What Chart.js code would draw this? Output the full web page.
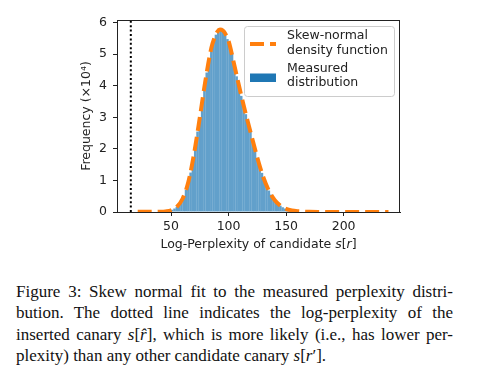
<!DOCTYPE html>
<html>
<head>
<meta charset="utf-8">
<script src="https://cdn.jsdelivr.net/npm/chart.js@4"></script>
<style>
  body { margin: 0; background: #fff; width: 480px; height: 384px; overflow: hidden; position: relative; }
  #wrap { position: absolute; left: 0; top: 0; width: 480px; height: 258px; }
  #caption { position: absolute; left: 16px; top: 281px; width: 437px;
             font-family: "Liberation Serif", "Times New Roman", serif; font-size: 17px;
             line-height: 21.3px; color: #111; }
  #caption .ln { text-align: justify; text-align-last: justify; }
  #caption .last { text-align: left; text-align-last: left; }
</style>
</head>
<body>
<div id="wrap"><canvas id="chart" width="480" height="258"></canvas></div>
<div id="caption">
  <div class="ln">Figure 3: Skew normal fit to the measured perplexity distri-</div>
  <div class="ln">bution. The dotted line indicates the log-perplexity of the</div>
  <div class="ln">inserted canary <i>s</i>[<i>r&#770;</i>], which is more likely (i.e., has lower per-</div>
  <div class="ln last">plexity) than any other candidate canary <i>s</i>[<i>r</i>&#8242;].</div>
</div>
<script>
// histogram bins (centre of each bin) and heights, in units of 10^4
const binCenters = [51, 53, 55, 57, 59, 61, 63, 65, 67, 69, 71, 73, 75, 77, 79, 81, 83, 85,
                    87, 89, 91, 93, 95, 97, 99, 101, 103, 105, 107, 109, 111, 113, 115, 117,
                    119, 121, 123, 125, 127, 129, 131, 133, 135, 137, 139, 141, 143, 145, 147,
                    149, 151, 153, 155];
const binCounts = [0.07, 0.11, 0.16, 0.24, 0.35, 0.5, 0.7, 0.95, 1.25, 1.65, 2.08, 2.55, 3.0,
                   3.48, 3.96, 4.42, 4.82, 5.18, 5.45, 5.62, 5.72, 5.75, 5.72, 5.62, 5.48, 5.3,
                   5.02, 4.66, 4.3, 3.98, 3.68, 3.4, 3.1, 2.82, 2.54, 2.26, 1.98, 1.72, 1.48,
                   1.24, 1.02, 0.85, 0.68, 0.55, 0.43, 0.34, 0.26, 0.2, 0.15, 0.11, 0.08, 0.06,
                   0.04];

// fitted skew-normal density
const curveX = [21, 25, 30, 35, 40, 45, 50, 55, 60, 65, 70, 75, 80, 85, 87.5, 90, 92.5, 95,
                97.5, 100, 105, 110, 115, 120, 125, 130, 135, 140, 145, 150, 155, 160, 165,
                170, 180, 190, 200, 210, 220, 230, 239];
const curveY = [0.004, 0.004, 0.005, 0.006, 0.01, 0.02, 0.05, 0.16, 0.42, 0.95, 1.85, 3.0,
                4.2, 5.2, 5.5, 5.7, 5.78, 5.75, 5.63, 5.42, 4.65, 3.85, 3.1, 2.4, 1.72, 1.12,
                0.68, 0.38, 0.2, 0.1, 0.05, 0.025, 0.012, 0.006, 0.003, 0.002, 0.002, 0.002,
                0.002, 0.002, 0.002];

// log-perplexity of the inserted canary
const canaryX = 15;

const xTicks = [50, 100, 150, 200];
const yTicks = [0, 1, 2, 3, 4, 5, 6];
const xMin = 3, xMax = 249;
const yMin = 0, yMax = 6.085;

const BLUE = '#1f77b4';
const BAR_BLUE = '#62a0cb';
const ORANGE = '#ff7f0e';
const INK = '#222';
const FONT = '"DejaVu Sans", sans-serif';

const decorPlugin = {
    id: 'decor',
    afterDraw(chart) {
        const { ctx, chartArea: a } = chart;
        ctx.save();

        // full frame round the plot
        ctx.strokeStyle = INK;
        ctx.lineWidth = 1;
        ctx.strokeRect(Math.round(a.left) + 0.5, Math.round(a.top) + 0.5,
                       Math.round(a.right - a.left) - 1, Math.round(a.bottom - a.top));

        // legend box, top right inside the plot
        const bx = 244, by = 26, bw = 150, bh = 70;
        ctx.beginPath();
        ctx.roundRect(bx + 0.5, by + 0.5, bw, bh, 3);
        ctx.fillStyle = 'rgba(255,255,255,0.8)';
        ctx.fill();
        ctx.strokeStyle = '#cccccc';
        ctx.stroke();

        ctx.strokeStyle = ORANGE;
        ctx.lineWidth = 4;
        ctx.setLineDash([14, 6]);
        ctx.beginPath();
        ctx.moveTo(250, 44);
        ctx.lineTo(276, 44);
        ctx.stroke();
        ctx.setLineDash([]);

        ctx.fillStyle = BLUE;
        ctx.fillRect(250, 73.5, 26, 8.5);

        ctx.fillStyle = INK;
        ctx.font = '12.5px ' + FONT;
        ctx.textBaseline = 'middle';
        ctx.textAlign = 'left';
        ctx.fillText('Skew-normal', 287, 36);
        ctx.fillText('density function', 287, 50.5);
        ctx.fillText('Measured', 287, 69);
        ctx.fillText('distribution', 287, 83);

        // x axis title with math-italic s and r
        const parts = [
            ['Log-Perplexity of candidate ', 'normal'],
            ['s', 'oblique'],
            ['[', 'normal'],
            ['r', 'oblique'],
            [']', 'normal']
        ];
        let total = 0;
        parts.forEach(p => {
            ctx.font = (p[1] === 'oblique' ? 'oblique ' : '') + '12.5px ' + FONT;
            total += ctx.measureText(p[0]).width;
        });
        let x = (a.left + a.right) / 2 - total / 2;
        parts.forEach(p => {
            ctx.font = (p[1] === 'oblique' ? 'oblique ' : '') + '12.5px ' + FONT;
            ctx.fillText(p[0], x, 245);
            x += ctx.measureText(p[0]).width;
        });

        // y axis title
        ctx.font = '12.5px ' + FONT;
        ctx.textAlign = 'center';
        ctx.translate(87, (a.top + a.bottom) / 2);
        ctx.rotate(-Math.PI / 2);
        ctx.fillText('Frequency (\u00d710\u2074)', 0, 0);

        ctx.restore();
    }
};

new Chart(document.getElementById('chart'), {
    type: 'bar',
    data: {
        datasets: [{
            type: 'line',
            order: 0,
            data: curveX.map((x, i) => ({ x: x, y: curveY[i] })),
            borderColor: ORANGE,
            borderWidth: 4,
            borderDash: [14, 6],
            borderCapStyle: 'butt',
            pointRadius: 0,
            fill: false,
            cubicInterpolationMode: 'monotone'
        }, {
            type: 'line',
            order: 1,
            data: [{ x: canaryX, y: yMin }, { x: canaryX, y: yMax }],
            borderColor: '#000',
            borderWidth: 2,
            borderDash: [2, 2.4],
            borderCapStyle: 'butt',
            pointRadius: 0,
            fill: false
        }, {
            type: 'bar',
            order: 2,
            data: binCenters.map((x, i) => ({ x: x, y: binCounts[i] })),
            backgroundColor: BAR_BLUE,
            borderWidth: 0,
            barPercentage: 1.1,
            categoryPercentage: 1,
            grouped: false
        }]
    },
    options: {
        responsive: false,
        animation: false,
        layout: { padding: { left: 0, top: 20, right: 80, bottom: 0 } },
        plugins: { legend: { display: false }, tooltip: { enabled: false } },
        scales: {
            x: {
                type: 'linear',
                min: xMin,
                max: xMax,
                offset: false,
                afterFit: s => { s.height = 46; },
                afterBuildTicks: s => { s.ticks = xTicks.map(v => ({ value: v })); },
                grid: { offset: false, drawOnChartArea: false, drawTicks: true, tickLength: 4, tickColor: INK },
                border: { display: true, color: INK },
                ticks: { color: INK, padding: 3, maxRotation: 0, font: { family: FONT, size: 12.5 } }
            },
            y: {
                type: 'linear',
                min: yMin,
                max: yMax,
                afterFit: s => { s.width = 117; },
                afterBuildTicks: s => { s.ticks = yTicks.map(v => ({ value: v })); },
                grid: { drawOnChartArea: false, drawTicks: true, tickLength: 4, tickColor: INK },
                border: { display: true, color: INK },
                ticks: { color: INK, padding: 6, font: { family: FONT, size: 12.5 } }
            }
        }
    },
    plugins: [decorPlugin]
});
</script>
</body>
</html>
